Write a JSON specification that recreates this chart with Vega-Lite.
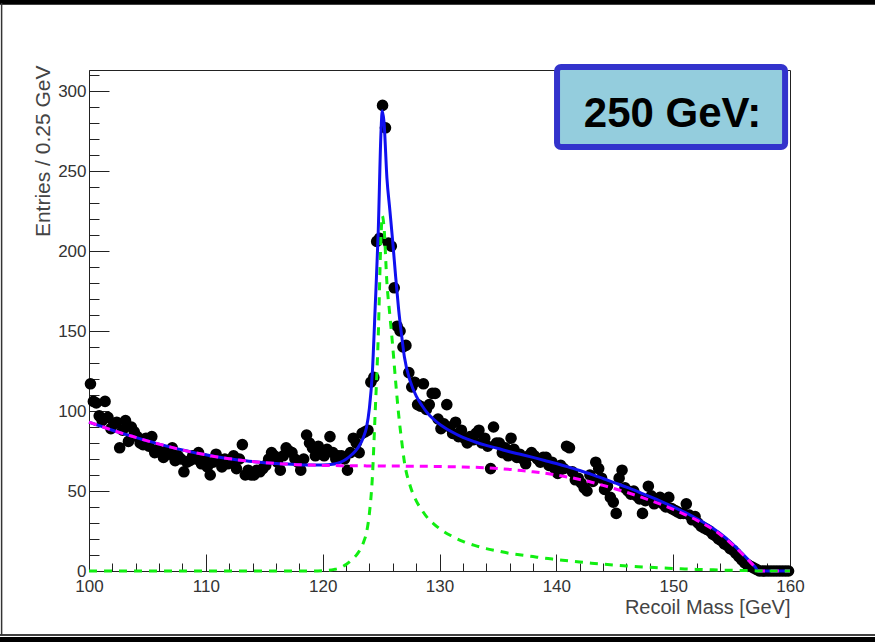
{
  "$schema": "https://vega.github.io/schema/vega-lite/v6.json",
  "width": 701,
  "height": 501,
  "autosize": {"type": "none"},
  "padding": {"left": 89, "top": 70, "right": 85, "bottom": 71},
  "background": "white",
  "config": {
    "view": {"stroke": "#222222", "strokeWidth": 1},
    "font": "Liberation Sans",
    "axis": {
      "grid": false,
      "labelOverlap": false,
      "labelFlush": false,
      "labelBound": false,
      "tickColor": "#222222",
      "domainColor": "#222222",
      "labelFontSize": 17,
      "labelColor": "#333333",
      "titleFontSize": 20,
      "titleFontWeight": "normal",
      "titleColor": "#444444",
      "titleAnchor": "end"
    }
  },
  "datasets": {
    "hist": [
      {"m":100.125,"n":117},{"m":100.375,"n":106},{"m":100.625,"n":105},{"m":100.875,"n":97},
      {"m":101.125,"n":94},{"m":101.375,"n":106},{"m":101.625,"n":96},{"m":101.875,"n":89},
      {"m":102.125,"n":92},{"m":102.375,"n":93},{"m":102.625,"n":77},{"m":102.875,"n":88},
      {"m":103.125,"n":94},{"m":103.375,"n":81},{"m":103.625,"n":90},{"m":103.875,"n":87},
      {"m":104.125,"n":84},{"m":104.375,"n":80},{"m":104.625,"n":79},{"m":104.875,"n":83},
      {"m":105.125,"n":78},{"m":105.375,"n":84},{"m":105.625,"n":74},{"m":105.875,"n":76},
      {"m":106.125,"n":74},{"m":106.375,"n":71},{"m":106.625,"n":75},{"m":106.875,"n":73},
      {"m":107.125,"n":77},{"m":107.375,"n":69},{"m":107.625,"n":72},{"m":107.875,"n":70},
      {"m":108.125,"n":62},{"m":108.375,"n":68},{"m":108.625,"n":69},{"m":108.875,"n":72},
      {"m":109.125,"n":70},{"m":109.375,"n":74},{"m":109.625,"n":67},{"m":109.875,"n":70},
      {"m":110.125,"n":65},{"m":110.375,"n":60},{"m":110.625,"n":68},{"m":110.875,"n":73},
      {"m":111.125,"n":70},{"m":111.375,"n":65},{"m":111.625,"n":70},{"m":111.875,"n":67},
      {"m":112.125,"n":68},{"m":112.375,"n":72},{"m":112.625,"n":64},{"m":112.875,"n":70},
      {"m":113.125,"n":79},{"m":113.375,"n":60},{"m":113.625,"n":63},{"m":113.875,"n":60},
      {"m":114.125,"n":60},{"m":114.375,"n":63},{"m":114.625,"n":62},{"m":114.875,"n":64},
      {"m":115.125,"n":66},{"m":115.375,"n":70},{"m":115.625,"n":74},{"m":115.875,"n":72},
      {"m":116.125,"n":68},{"m":116.375,"n":63},{"m":116.625,"n":72},{"m":116.875,"n":77},
      {"m":117.125,"n":75},{"m":117.375,"n":74},{"m":117.625,"n":70},{"m":117.875,"n":68},
      {"m":118.125,"n":63},{"m":118.375,"n":70},{"m":118.625,"n":85},{"m":118.875,"n":80},
      {"m":119.125,"n":77},{"m":119.375,"n":72},{"m":119.625,"n":78},{"m":119.875,"n":74},
      {"m":120.125,"n":72},{"m":120.375,"n":76},{"m":120.625,"n":84},{"m":120.875,"n":74},
      {"m":121.125,"n":70},{"m":121.375,"n":72},{"m":121.625,"n":72},{"m":121.875,"n":70},
      {"m":122.125,"n":63},{"m":122.375,"n":74},{"m":122.625,"n":83},{"m":122.875,"n":80},
      {"m":123.125,"n":74},{"m":123.375,"n":86},{"m":123.625,"n":87},{"m":123.875,"n":88},
      {"m":124.125,"n":118},{"m":124.375,"n":121},{"m":124.625,"n":206},{"m":124.875,"n":208},
      {"m":125.125,"n":291},{"m":125.375,"n":277},{"m":125.625,"n":205},{"m":125.875,"n":203},
      {"m":126.125,"n":177},{"m":126.375,"n":153},{"m":126.625,"n":150},{"m":126.875,"n":140},
      {"m":127.125,"n":141},{"m":127.375,"n":124},{"m":127.625,"n":115},{"m":127.875,"n":118},
      {"m":128.125,"n":104},{"m":128.375,"n":103},{"m":128.625,"n":117},{"m":128.875,"n":101},
      {"m":129.125,"n":104},{"m":129.375,"n":111},{"m":129.625,"n":111},{"m":129.875,"n":95},
      {"m":130.125,"n":89},{"m":130.375,"n":92},{"m":130.625,"n":104},{"m":130.875,"n":90},
      {"m":131.125,"n":86},{"m":131.375,"n":93},{"m":131.625,"n":84},{"m":131.875,"n":88},
      {"m":132.125,"n":83},{"m":132.375,"n":80},{"m":132.625,"n":84},{"m":132.875,"n":82},
      {"m":133.125,"n":86},{"m":133.375,"n":88},{"m":133.625,"n":80},{"m":133.875,"n":83},
      {"m":134.125,"n":78},{"m":134.375,"n":64},{"m":134.625,"n":90},{"m":134.875,"n":80},
      {"m":135.125,"n":80},{"m":135.375,"n":74},{"m":135.625,"n":77},{"m":135.875,"n":72},
      {"m":136.125,"n":83},{"m":136.375,"n":76},{"m":136.625,"n":71},{"m":136.875,"n":73},
      {"m":137.125,"n":70},{"m":137.375,"n":67},{"m":137.625,"n":72},{"m":137.875,"n":74},
      {"m":138.125,"n":72},{"m":138.375,"n":70},{"m":138.625,"n":68},{"m":138.875,"n":71},
      {"m":139.125,"n":71},{"m":139.375,"n":66},{"m":139.625,"n":68},{"m":139.875,"n":64},
      {"m":140.125,"n":61},{"m":140.375,"n":66},{"m":140.625,"n":64},{"m":140.875,"n":78},
      {"m":141.125,"n":77},{"m":141.375,"n":62},{"m":141.625,"n":57},{"m":141.875,"n":58},
      {"m":142.125,"n":55},{"m":142.375,"n":52},{"m":142.625,"n":50},{"m":142.875,"n":60},
      {"m":143.125,"n":56},{"m":143.375,"n":68},{"m":143.625,"n":64},{"m":143.875,"n":58},
      {"m":144.125,"n":51},{"m":144.375,"n":53},{"m":144.625,"n":46},{"m":144.875,"n":43},
      {"m":145.125,"n":36},{"m":145.375,"n":58},{"m":145.625,"n":63},{"m":145.875,"n":52},
      {"m":146.125,"n":50},{"m":146.375,"n":48},{"m":146.625,"n":50},{"m":146.875,"n":47},
      {"m":147.125,"n":45},{"m":147.375,"n":36},{"m":147.625,"n":44},{"m":147.875,"n":53},
      {"m":148.125,"n":47},{"m":148.375,"n":42},{"m":148.625,"n":44},{"m":148.875,"n":46},
      {"m":149.125,"n":42},{"m":149.375,"n":40},{"m":149.625,"n":46},{"m":149.875,"n":39},
      {"m":150.125,"n":38},{"m":150.375,"n":37},{"m":150.625,"n":36},{"m":150.875,"n":36},
      {"m":151.125,"n":42},{"m":151.375,"n":35},{"m":151.625,"n":32},{"m":151.875,"n":34},
      {"m":152.125,"n":30},{"m":152.375,"n":28},{"m":152.625,"n":27},{"m":152.875,"n":26},
      {"m":153.125,"n":25},{"m":153.375,"n":23},{"m":153.625,"n":22},{"m":153.875,"n":20},
      {"m":154.125,"n":19},{"m":154.375,"n":17},{"m":154.625,"n":16},{"m":154.875,"n":14},
      {"m":155.125,"n":13},{"m":155.375,"n":11},{"m":155.625,"n":9},{"m":155.875,"n":7},
      {"m":156.125,"n":5},{"m":156.375,"n":4},{"m":156.625,"n":3},{"m":156.875,"n":2},
      {"m":157.125,"n":1},{"m":157.375,"n":0},{"m":157.625,"n":0},{"m":157.875,"n":0},
      {"m":158.125,"n":0},{"m":158.375,"n":0},{"m":158.625,"n":0},{"m":158.875,"n":0},
      {"m":159.125,"n":0},{"m":159.375,"n":0},{"m":159.625,"n":0},{"m":159.875,"n":0}
    ],
    "fit": [
      {"m":100,"bg":93,"sig":0,"tot":93},
      {"m":101,"bg":90.5,"sig":0,"tot":90.5},
      {"m":102,"bg":88,"sig":0,"tot":88},
      {"m":103,"bg":85.7,"sig":0,"tot":85.7},
      {"m":104,"bg":83.5,"sig":0,"tot":83.5},
      {"m":105,"bg":81.3,"sig":0,"tot":81.3},
      {"m":106,"bg":79.3,"sig":0,"tot":79.3},
      {"m":107,"bg":77.4,"sig":0,"tot":77.4},
      {"m":108,"bg":75.6,"sig":0,"tot":75.6},
      {"m":109,"bg":74,"sig":0,"tot":74},
      {"m":110,"bg":72.6,"sig":0,"tot":72.6},
      {"m":111,"bg":71.3,"sig":0,"tot":71.3},
      {"m":112,"bg":70.2,"sig":0,"tot":70.2},
      {"m":113,"bg":69.2,"sig":0,"tot":69.2},
      {"m":114,"bg":68.4,"sig":0,"tot":68.4},
      {"m":115,"bg":67.7,"sig":0,"tot":67.7},
      {"m":116,"bg":67.2,"sig":0,"tot":67.2},
      {"m":117,"bg":66.8,"sig":0,"tot":66.8},
      {"m":118,"bg":66.4,"sig":0,"tot":66.4},
      {"m":119,"bg":66.2,"sig":0,"tot":66.2},
      {"m":120,"bg":66,"sig":0.2,"tot":66.2},
      {"m":121,"bg":65.9,"sig":1,"tot":66.9},
      {"m":121.5,"bg":65.85,"sig":2,"tot":67.85},
      {"m":122,"bg":65.8,"sig":4,"tot":69.8},
      {"m":122.5,"bg":65.8,"sig":7,"tot":72.8},
      {"m":123,"bg":65.75,"sig":11,"tot":76.75},
      {"m":123.5,"bg":65.75,"sig":18,"tot":83.75},
      {"m":123.75,"bg":65.7,"sig":24,"tot":89.7},
      {"m":124,"bg":65.7,"sig":36,"tot":101.7},
      {"m":124.25,"bg":65.7,"sig":58,"tot":123.7},
      {"m":124.5,"bg":65.7,"sig":100,"tot":165.7},
      {"m":124.75,"bg":65.7,"sig":145,"tot":210.7},
      {"m":125,"bg":65.7,"sig":210,"tot":275.7},
      {"m":125.1,"bg":65.7,"sig":222,"tot":287.7},
      {"m":125.25,"bg":65.7,"sig":215,"tot":280.7},
      {"m":125.5,"bg":65.6,"sig":180,"tot":245.6},
      {"m":125.75,"bg":65.6,"sig":160,"tot":225.6},
      {"m":126,"bg":65.6,"sig":140,"tot":205.6},
      {"m":126.25,"bg":65.6,"sig":118,"tot":183.6},
      {"m":126.5,"bg":65.6,"sig":98,"tot":163.6},
      {"m":126.75,"bg":65.6,"sig":82,"tot":147.6},
      {"m":127,"bg":65.55,"sig":68,"tot":133.55},
      {"m":127.5,"bg":65.5,"sig":53,"tot":118.5},
      {"m":128,"bg":65.5,"sig":44,"tot":109.5},
      {"m":128.5,"bg":65.45,"sig":38,"tot":103.45},
      {"m":129,"bg":65.4,"sig":33,"tot":98.4},
      {"m":129.5,"bg":65.35,"sig":29.5,"tot":94.85},
      {"m":130,"bg":65.3,"sig":26.5,"tot":91.8},
      {"m":131,"bg":65.15,"sig":22,"tot":87.15},
      {"m":132,"bg":65,"sig":18.5,"tot":83.5},
      {"m":133,"bg":64.8,"sig":16,"tot":80.8},
      {"m":134,"bg":64.5,"sig":14,"tot":78.5},
      {"m":135,"bg":64.1,"sig":12.5,"tot":76.6},
      {"m":136,"bg":63.5,"sig":11,"tot":74.5},
      {"m":137,"bg":62.8,"sig":10,"tot":72.8},
      {"m":138,"bg":62,"sig":9,"tot":71},
      {"m":139,"bg":61.1,"sig":8,"tot":69.1},
      {"m":140,"bg":60,"sig":7.2,"tot":67.2},
      {"m":141,"bg":58.7,"sig":6.4,"tot":65.1},
      {"m":142,"bg":57.2,"sig":5.6,"tot":62.8},
      {"m":143,"bg":55.5,"sig":4.9,"tot":60.4},
      {"m":144,"bg":53.5,"sig":4.3,"tot":57.8},
      {"m":145,"bg":51.4,"sig":3.7,"tot":55.1},
      {"m":146,"bg":49.2,"sig":3.2,"tot":52.4},
      {"m":147,"bg":46.8,"sig":2.7,"tot":49.5},
      {"m":148,"bg":44.2,"sig":2.3,"tot":46.5},
      {"m":149,"bg":41.5,"sig":1.9,"tot":43.4},
      {"m":150,"bg":38.5,"sig":1.6,"tot":40.1},
      {"m":151,"bg":35.3,"sig":1.3,"tot":36.6},
      {"m":152,"bg":31.8,"sig":1,"tot":32.8},
      {"m":153,"bg":27.8,"sig":0.8,"tot":28.6},
      {"m":154,"bg":23,"sig":0.6,"tot":23.6},
      {"m":155,"bg":17,"sig":0.45,"tot":17.45},
      {"m":156,"bg":10,"sig":0.3,"tot":10.3},
      {"m":156.5,"bg":6.3,"sig":0.2,"tot":6.5},
      {"m":157,"bg":2.5,"sig":0.1,"tot":2.6},
      {"m":157.3,"bg":0,"sig":0.05,"tot":0.05},
      {"m":158,"bg":0,"sig":0,"tot":0},
      {"m":159,"bg":0,"sig":0,"tot":0},
      {"m":160,"bg":0,"sig":0,"tot":0}
    ]
  },
  "resolve": {"axis": {"x": "independent", "y": "independent"}},
  "layer": [
    {
      "layer": [
        {
          "data": {"name": "hist"},
          "mark": {"type": "circle", "size": 135, "color": "black", "opacity": 1},
          "encoding": {
            "x": {
              "field": "m", "type": "quantitative",
              "scale": {"domain": [100, 160], "nice": false, "zero": false},
              "axis": {
                "orient": "bottom",
                "title": "Recoil Mass [GeV]",
                "values": [100, 110, 120, 130, 140, 150, 160],
                "tickSize": -17,
                "labelPadding": 24,
                "titleY": 26
              }
            },
            "y": {
              "field": "n", "type": "quantitative",
              "scale": {"domain": [0, 313.125], "nice": false, "zero": false},
              "axis": {
                "orient": "left",
                "title": "Entries / 0.25 GeV",
                "values": [0, 50, 100, 150, 200, 250, 300],
                "tickSize": -20,
                "labelPadding": 23,
                "titlePadding": 4,
                "titleFontSize": 21,
                "titleY": -5
              }
            }
          }
        },
        {
          "data": {"name": "fit"},
          "mark": {"type": "line", "color": "#1010F0", "strokeWidth": 3, "interpolate": "monotone"},
          "encoding": {
            "x": {"field": "m", "type": "quantitative"},
            "y": {"field": "tot", "type": "quantitative"}
          }
        },
        {
          "data": {"values": [{"label": "250 GeV:"}]},
          "mark": {"type": "rect", "fill": "#94CDDD", "stroke": "#3333CC", "strokeWidth": 6, "cornerRadius": 4, "clip": false},
          "encoding": {
            "x": {"datum": 140.06, "type": "quantitative"},
            "x2": {"datum": 159.58},
            "y": {"datum": 315, "type": "quantitative"},
            "y2": {"datum": 265}
          }
        },
        {
          "data": {"values": [{"label": "250 GeV:"}]},
          "mark": {"type": "text", "font": "Liberation Sans", "fontSize": 42, "fontWeight": "bold", "color": "black", "align": "center", "baseline": "alphabetic", "clip": false},
          "encoding": {
            "text": {"field": "label"},
            "x": {"datum": 149.95, "type": "quantitative"},
            "y": {"datum": 277.7, "type": "quantitative"}
          }
        },
        {
          "data": {"values": [{}]},
          "mark": {"type": "rect", "color": "black", "clip": false},
          "encoding": {
            "x": {"datum": 92.38, "type": "quantitative"},
            "x2": {"datum": 167.3},
            "y": {"datum": 357, "type": "quantitative"},
            "y2": {"datum": 353.9}
          }
        },
        {
          "data": {"values": [{}]},
          "mark": {"type": "rect", "color": "black", "clip": false},
          "encoding": {
            "x": {"datum": 92.38, "type": "quantitative"},
            "x2": {"datum": 167.3},
            "y": {"datum": -41.3, "type": "quantitative"},
            "y2": {"datum": -45}
          }
        },
        {
          "data": {"values": [{}]},
          "mark": {"type": "rule", "color": "black", "strokeWidth": 1.5, "clip": false},
          "encoding": {
            "x": {"datum": 92.38, "type": "quantitative"},
            "x2": {"datum": 167.3},
            "y": {"datum": -40, "type": "quantitative"}
          }
        },
        {
          "data": {"values": [{}]},
          "mark": {"type": "rule", "color": "#333333", "strokeWidth": 1.5, "clip": false},
          "encoding": {
            "x": {"datum": 92.52, "type": "quantitative"},
            "y": {"datum": 355, "type": "quantitative"},
            "y2": {"datum": -40}
          }
        }
      ]
    },
    {
      "data": {"name": "fit"},
      "layer": [
        {
          "mark": {"type": "line", "color": "#FF00FF", "strokeWidth": 3, "strokeDash": [8, 6], "interpolate": "monotone"},
          "encoding": {
            "x": {
              "field": "m", "type": "quantitative",
              "axis": {"orient": "bottom", "title": null, "labels": false, "domain": false, "tickSize": -8,
                       "values": [102,104,106,108,112,114,116,118,122,124,126,128,132,134,136,138,142,144,146,148,152,154,156,158]}
            },
            "y": {
              "field": "bg", "type": "quantitative",
              "axis": {"orient": "left", "title": null, "labels": false, "domain": false, "tickSize": -10,
                       "values": [10,20,30,40,60,70,80,90,110,120,130,140,160,170,180,190,210,220,230,240,260,270,280,290,310]}
            }
          }
        },
        {
          "mark": {"type": "line", "color": "#11EE11", "strokeWidth": 3, "strokeDash": [8, 7], "interpolate": "monotone"},
          "encoding": {
            "x": {
              "field": "m", "type": "quantitative",
              "axis": {"orient": "bottom", "title": null, "labels": false, "domain": false, "tickSize": -8,
                       "values": [102,104,106,108,112,114,116,118,122,124,126,128,132,134,136,138,142,144,146,148,152,154,156,158]}
            },
            "y": {
              "field": "sig", "type": "quantitative",
              "axis": {"orient": "left", "title": null, "labels": false, "domain": false, "tickSize": -10,
                       "values": [10,20,30,40,60,70,80,90,110,120,130,140,160,170,180,190,210,220,230,240,260,270,280,290,310]}
            }
          }
        }
      ]
    }
  ]
}
